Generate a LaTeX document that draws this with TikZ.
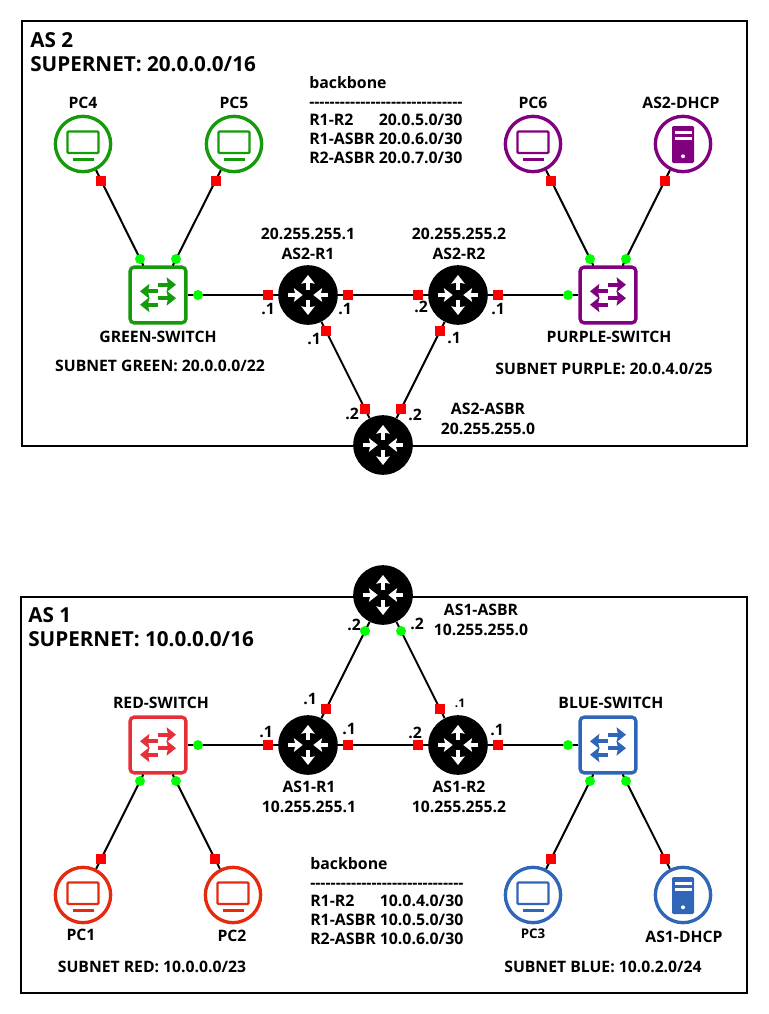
\documentclass[tikz,border=0pt]{standalone}
\usepackage{fontspec}
\usetikzlibrary{arrows.meta}
\setmainfont{Open Sans}[Ligatures=TeXOff]
\definecolor{cgreen}{HTML}{149A0B}
\definecolor{cpurple}{HTML}{800080}
\definecolor{cred}{HTML}{E62A10}
\definecolor{cswred}{HTML}{E5303A}
\definecolor{cblue}{HTML}{2F66B8}
\newcommand{\rowa}[2]{\rlap{#1}\phantom{R1-ASBR} #2}
\tikzset{
 x=0.75pt,y=-0.75pt,
 link/.style={line width=1.5pt},
 hostnode/.style={circle,draw=#1,line width=2.5pt,fill=white,minimum size=41.5pt,inner sep=0pt},
 swnode/.style={rectangle,rounded corners=3pt,draw=#1,line width=2.5pt,fill=white,minimum size=41.8pt,inner sep=0pt},
 routernode/.style={circle,fill=black,minimum size=44.7pt,inner sep=0pt},
 redport/.style={rectangle,fill=red,minimum size=7.5pt,inner sep=0pt},
 greenport/.style={circle,fill=green,minimum size=7.5pt,inner sep=0pt},
 lab/.style={font=\bfseries\fontsize{11.8pt}{15pt}\selectfont,align=center,inner sep=0pt},
 iplab/.style={font=\bfseries\fontsize{11.8pt}{15pt}\selectfont,inner sep=0pt},
 title/.style={font=\bfseries\fontsize{15.5pt}{18pt}\selectfont,align=left,inner sep=0pt},
 tablelab/.style={font=\bfseries\fontsize{11.9pt}{14.1pt}\selectfont,align=left,inner sep=0pt},
 box/.style={draw=black,line width=1.5pt},
 swarrow/.style={line width=2.8pt,-{Stealth[length=7pt,width=11pt,inset=1pt]}},
 rtarrow/.style={white,line width=2.5pt,-{Stealth[length=6.5pt,width=10pt,inset=1pt]}},
 pics/pcicon/.style={code={
  \draw[#1,line width=1.7pt,rounded corners=0.8pt] (-15.5,-12.5) rectangle (15.5,9);
  \draw[#1,line width=1.7pt] (-10,15.5) -- (10.5,15.5);
 }},
 pics/srvicon/.style={code={
  \fill[#1,rounded corners=1pt] (-11,-18) rectangle (11,19);
  \fill[white] (-8.5,-13.5) rectangle (8.5,-10.5);
  \fill[white] (-8.5,-7) rectangle (8.5,-4);
  \fill[white] (0,12.3) circle (1.5pt);
 }},
 pics/swicon/.style={code={
  \draw[#1,swarrow] (0,-10.3) -- (18,-10.3);
  \draw[#1,swarrow] (0,-3.7) -- (-18,-3.7);
  \draw[#1,swarrow] (0,3.2) -- (18,3.2);
  \draw[#1,swarrow] (0,9.7) -- (-18,9.7);
 }},
 pics/rticon/.style={code={
  \draw[rtarrow] (0,-5) -- (0,-20);
  \draw[rtarrow] (0,5) -- (0,20);
  \draw[rtarrow] (-20,0) -- (-5.3,0);
  \draw[rtarrow] (20,0) -- (5.3,0);
 }},
}
\begin{document}
\begin{tikzpicture}
\useasboundingbox (0,0) rectangle (768,1014);
% boxes
\draw[box] (22,21) rectangle (747,446);
\draw[box] (21,597) rectangle (747,993);
% AS2 nodes
\node[hostnode=cgreen] (pc4) at (83,144) {};
\node[hostnode=cgreen] (pc5) at (234,144) {};
\node[hostnode=cpurple] (pc6) at (533,144) {};
\node[hostnode=cpurple] (dhcp2) at (683,144) {};
\node[swnode=cgreen] (swg) at (158,295) {};
\node[swnode=cpurple] (swp) at (608,295) {};
\node[routernode] (r1b) at (308,295) {};
\node[routernode] (r2b) at (458,295) {};
\node[routernode] (asbrb) at (383,445) {};
% AS1 nodes
\node[hostnode=cred] (pc1) at (83,895) {};
\node[hostnode=cred] (pc2) at (233,895) {};
\node[hostnode=cblue] (pc3) at (533,895) {};
\node[hostnode=cblue] (dhcp1) at (683,895) {};
\node[swnode=cswred] (swr) at (158,745) {};
\node[swnode=cblue] (swb) at (608,745) {};
\node[routernode] (r1a) at (308,745) {};
\node[routernode] (r2a) at (458,745) {};
\node[routernode] (asbra) at (383,595) {};
% connectors
\draw[link] (pc4) -- (swg);
\draw[link] (pc5) -- (swg);
\draw[link] (pc6) -- (swp);
\draw[link] (dhcp2) -- (swp);
\draw[link] (swg) -- (r1b);
\draw[link] (r1b) -- (r2b);
\draw[link] (r2b) -- (swp);
\draw[link] (r1b) -- (asbrb);
\draw[link] (r2b) -- (asbrb);
\draw[link] (pc1) -- (swr);
\draw[link] (pc2) -- (swr);
\draw[link] (pc3) -- (swb);
\draw[link] (dhcp1) -- (swb);
\draw[link] (swr) -- (r1a);
\draw[link] (r1a) -- (r2a);
\draw[link] (r2a) -- (swb);
\draw[link] (r1a) -- (asbra);
\draw[link] (r2a) -- (asbra);
% icons
\pic at (pc4) {pcicon=cgreen}; \pic at (pc5) {pcicon=cgreen};
\pic at (pc6) {pcicon=cpurple}; \pic at (dhcp2) {srvicon=cpurple};
\pic at (pc1) {pcicon=cred}; \pic at (pc2) {pcicon=cred};
\pic at (pc3) {pcicon=cblue}; \pic at (dhcp1) {srvicon=cblue};
\pic at (swg) {swicon=cgreen}; \pic at (swp) {swicon=cpurple};
\pic at (swr) {swicon=cswred}; \pic at (swb) {swicon=cblue};
\pic at (r1b) {rticon}; \pic at (r2b) {rticon}; \pic at (asbrb) {rticon};
\pic at (r1a) {rticon}; \pic at (r2a) {rticon}; \pic at (asbra) {rticon};
% ports AS2
\foreach \n/\x/\y in {a/101/181,b/216/181,c/551/181,d/665/181,e/268/295,f/348/295,g/418/295,h/498/295,i/326/331,j/440/331,k/365/409,l/401/409}
  \node[redport] (pr\n) at (\x,\y) {};
\foreach \n/\x/\y in {a/140/259,b/176/259,c/198/295,d/590/259,e/626/259,f/568/295}
  \node[greenport] (pg\n) at (\x,\y) {};
% ports AS1
\foreach \n/\x/\y in {m/268/745,o/348/745,p/418/745,q/498/745,s/101/859,t/215/859,u/551/859,v/665/859,w/326/709,x/440/709}
  \node[redport] (pr\n) at (\x,\y) {};
\foreach \n/\x/\y in {g/198/745,h/140/781,i/176/781,j/568/745,k/590/781,l/626/781,m/365/631,n/401/631}
  \node[greenport] (pg\n) at (\x,\y) {};
% titles
\node[title,anchor=north west] (t2) at (30,32) {AS 2\\SUPERNET: 20.0.0.0/16};
\node[title,anchor=north west] (t1) at (28,607) {AS 1\\SUPERNET: 10.0.0.0/16};
% host labels
\node[lab] (lpc4) at (83,103) {PC4};
\node[lab] (lpc5) at (234,103) {PC5};
\node[lab] (lpc6) at (533,103) {PC6};
\node[lab] (ldh2) at (681,103) {AS2-DHCP};
\node[lab] (lsg) at (158,337) {GREEN-SWITCH};
\node[lab] (lsp) at (609,337) {PURPLE-SWITCH};
\node[lab] (lnetg) at (160,366) {SUBNET GREEN: 20.0.0.0/22};
\node[lab] (lnetp) at (604,369) {SUBNET PURPLE: 20.0.4.0/25};
\node[lab] (lr1b) at (308,244) {20.255.255.1\\AS2-R1};
\node[lab] (lr2b) at (459,244) {20.255.255.2\\AS2-R2};
\node[lab] (las2) at (488,419) {AS2-ASBR\\20.255.255.0};
\node[lab] (lsr) at (161,703) {RED-SWITCH};
\node[lab] (lsb) at (611,703) {BLUE-SWITCH};
\node[lab] (lr1a) at (309,797) {AS1-R1\\10.255.255.1};
\node[lab] (lr2a) at (459,797) {AS1-R2\\10.255.255.2};
\node[lab] (las1) at (481,620) {AS1-ASBR\\10.255.255.0};
\node[lab] (lpc1) at (81,935) {PC1};
\node[lab] (lpc2) at (232,936) {PC2};
\node[lab,font=\bfseries\fontsize{10pt}{11pt}\selectfont] (lpc3) at (533,934) {PC3};
\node[lab] (ldh1) at (684,937) {AS1-DHCP};
\node[lab] (lnetr) at (152,967) {SUBNET RED: 10.0.0.0/23};
\node[lab] (lnetb) at (603,967) {SUBNET BLUE: 10.0.2.0/24};
% ip labels
\foreach \n/\x/\y/\t in {a/268/309/.1,b/345/309/.1,c/421/307/.2,d/498/309/.1,e/314/339/.1,f/454/338/.1,g/352/414/.2,h/415/415/.2,
 i/266/732/.1,j/349/729/.1,k/415/733/.2,l/497/730/.1,m/310/699/.1,o/354/625/.2,p/417/624/.2}
 \node[iplab] (ip\n) at (\x,\y) {\t};
\node[iplab,font=\bfseries\fontsize{9pt}{11pt}\selectfont] (ipn) at (460,703) {.1};
% tables
\node[tablelab,anchor=north west] (tb2) at (309,76) {backbone\\------------------------------\\\rowa{R1-R2}{20.0.5.0/30}\\R1-ASBR 20.0.6.0/30\\R2-ASBR 20.0.7.0/30};
\node[tablelab,anchor=north west] (tb1) at (310,857) {backbone\\------------------------------\\\rowa{R1-R2}{10.0.4.0/30}\\R1-ASBR 10.0.5.0/30\\R2-ASBR 10.0.6.0/30};
\end{tikzpicture}
\end{document}
